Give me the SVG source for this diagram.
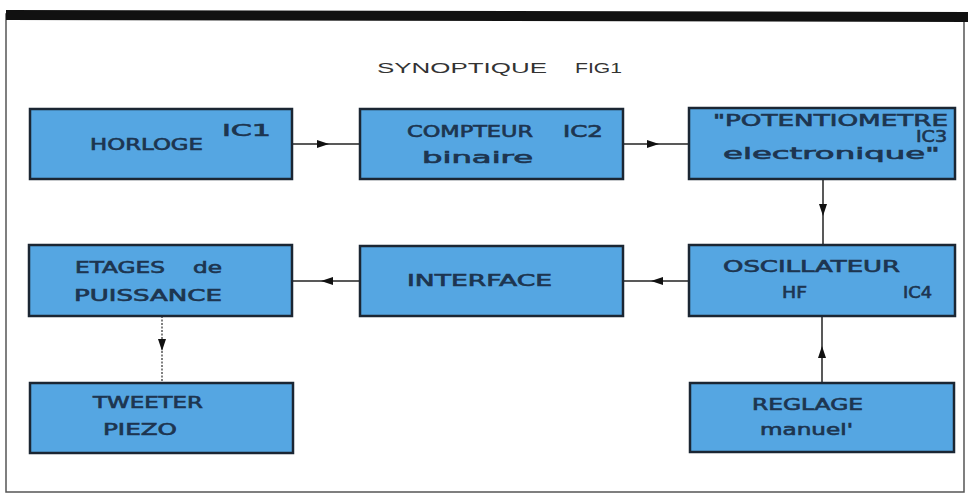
<svg xmlns="http://www.w3.org/2000/svg" width="968" height="497" viewBox="0 0 968 497">
<style>
.box{fill:#55a6e2;stroke:#1b2633;stroke-width:2.5}
.t{font-family:"DejaVu Sans",sans-serif;font-size:15px;fill:#1d3550;stroke:#1d3550;stroke-width:0.6}
.title{font-family:"Liberation Sans",sans-serif;font-size:15px;fill:#333}
.c{fill:none;stroke:#222;stroke-width:1.5;marker-mid:url(#ah)}
.d{stroke:#555;stroke-dasharray:2 1.5}
</style>
<defs>
<marker id="ah" markerUnits="userSpaceOnUse" markerWidth="12" markerHeight="8" refX="11" refY="4" orient="auto">
<path d="M0,0 L12,4 L0,8 z" fill="#111"/>
</marker>
</defs>
<rect x="0" y="0" width="968" height="497" fill="#ffffff"/>
<rect x="6" y="14" width="958" height="478" fill="none" stroke="#555" stroke-width="1.5"/>
<polygon points="6,10 968,12 968,22 6,20" fill="#111"/>
<text class="title" x="377" y="73" textLength="170" lengthAdjust="spacingAndGlyphs">SYNOPTIQUE</text>
<text class="title" x="575" y="73" textLength="47" lengthAdjust="spacingAndGlyphs">FIG1</text>

<g id="connectors">
<path class="c" d="M292,144 L328,144 L360,144"/>
<path class="c" d="M623,144 L658,144 L689,144"/>
<path class="c" d="M823,179 L823,215 L823,245"/>
<path class="c" d="M689,281 L652,281 L623,281"/>
<path class="c" d="M360,281 L322,281 L292,281"/>
<path class="c d" d="M162,316 L162,350 L162,383"/>
<path class="c" d="M822,383 L822,347 L822,316"/>
</g>

<g id="horloge">
<rect class="box" x="30" y="109" width="262" height="70"/>
<text class="t" x="90" y="150" textLength="113" lengthAdjust="spacingAndGlyphs">HORLOGE</text>
<text class="t" x="222" y="136" textLength="49" lengthAdjust="spacingAndGlyphs">IC1</text>
</g>
<g id="compteur">
<rect class="box" x="360" y="109" width="263" height="70"/>
<text class="t" x="407" y="137" textLength="126" lengthAdjust="spacingAndGlyphs">COMPTEUR</text>
<text class="t" x="563" y="137" textLength="40" lengthAdjust="spacingAndGlyphs">IC2</text>
<text class="t" x="422" y="163" textLength="111" lengthAdjust="spacingAndGlyphs">binaire</text>
</g>
<g id="potentiometre">
<rect class="box" x="689" y="108" width="266" height="71"/>
<text class="t" x="713" y="126" textLength="235" lengthAdjust="spacingAndGlyphs">"POTENTIOMETRE</text>
<text class="t" x="916" y="142" textLength="31" lengthAdjust="spacingAndGlyphs">IC3</text>
<text class="t" x="723" y="159" textLength="217" lengthAdjust="spacingAndGlyphs">electronique"</text>
</g>
<g id="etages">
<rect class="box" x="29" y="245" width="263" height="71"/>
<text class="t" x="75" y="273" textLength="90" lengthAdjust="spacingAndGlyphs">ETAGES</text>
<text class="t" x="193" y="273" textLength="29" lengthAdjust="spacingAndGlyphs">de</text>
<text class="t" x="74" y="301" textLength="148" lengthAdjust="spacingAndGlyphs">PUISSANCE</text>
</g>
<g id="interface">
<rect class="box" x="360" y="246" width="263" height="70"/>
<text class="t" x="407" y="286" textLength="145" lengthAdjust="spacingAndGlyphs">INTERFACE</text>
</g>
<g id="oscillateur">
<rect class="box" x="689" y="245" width="266" height="71"/>
<text class="t" x="723" y="272" textLength="177" lengthAdjust="spacingAndGlyphs">OSCILLATEUR</text>
<text class="t" x="782" y="298" textLength="25" lengthAdjust="spacingAndGlyphs">HF</text>
<text class="t" x="903" y="298" textLength="29" lengthAdjust="spacingAndGlyphs">IC4</text>
</g>
<g id="tweeter">
<rect class="box" x="30" y="383" width="263" height="70"/>
<text class="t" x="93" y="408" textLength="110" lengthAdjust="spacingAndGlyphs">TWEETER</text>
<text class="t" x="103" y="435" textLength="74" lengthAdjust="spacingAndGlyphs">PIEZO</text>
</g>
<g id="reglage">
<rect class="box" x="690" y="383" width="264" height="69"/>
<text class="t" x="752" y="410" textLength="111" lengthAdjust="spacingAndGlyphs">REGLAGE</text>
<text class="t" x="760" y="435" textLength="93" lengthAdjust="spacingAndGlyphs">manuel'</text>
</g>
</svg>
